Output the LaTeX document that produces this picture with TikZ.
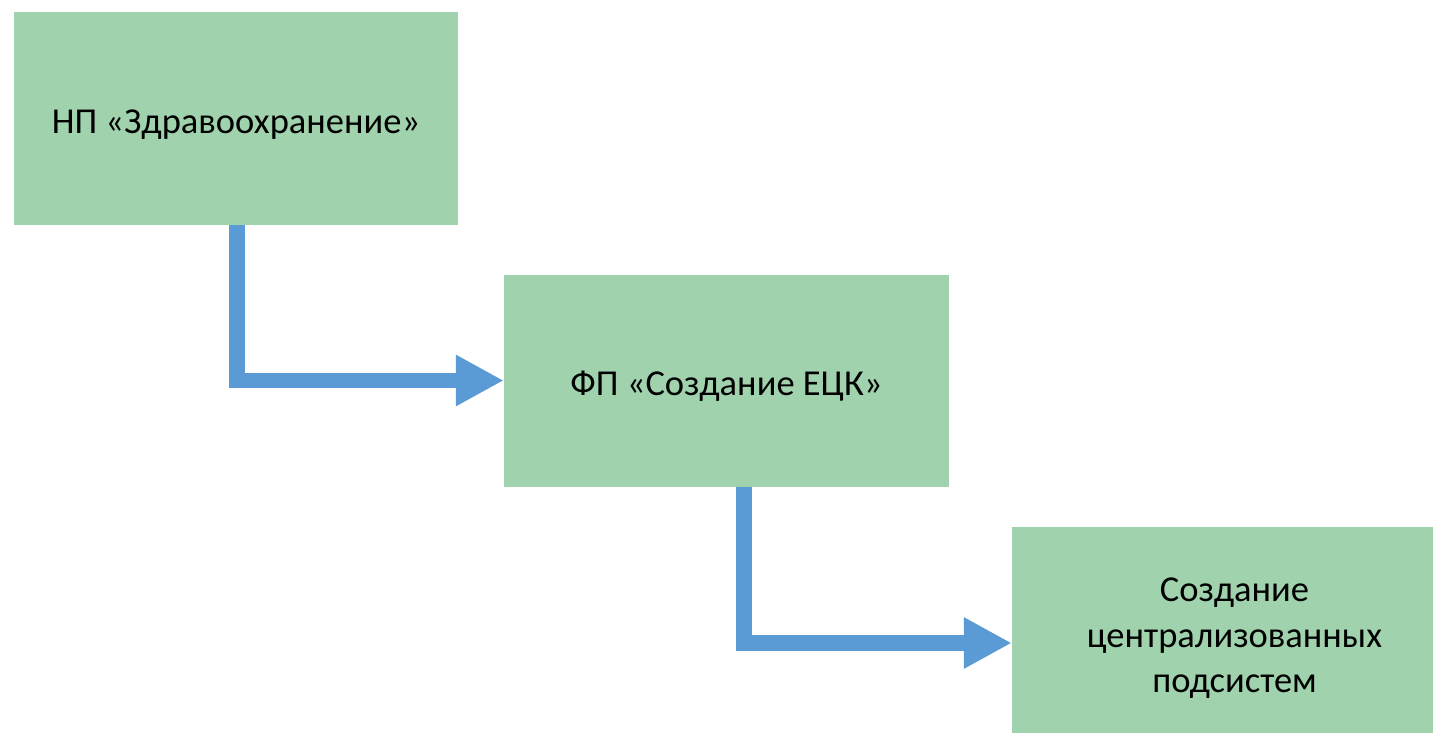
\documentclass[tikz,border=0pt]{standalone}
\usepackage{fontspec}
\setmainfont{Carlito}
\usetikzlibrary{arrows.meta}
\definecolor{boxgreen}{HTML}{A0D3AD}
\definecolor{arrowblue}{HTML}{5B9BD5}
\begin{document}
\begin{tikzpicture}[x=1pt,y=-1pt,
  box/.style={fill=boxgreen, draw=none, minimum width=445pt, minimum height=212pt,
    inner sep=0pt, align=center, font=\fontsize{36.5}{45.5}\selectfont},
  oneline/.style={text height=29.6pt, text depth=0pt},
  conn/.style={draw=arrowblue, line width=15.7pt, line join=miter,
    -{Triangle[length=48pt,width=48pt]}}]
\useasboundingbox (0,0) rectangle (1433,733);
\clip (0,0) rectangle (1433,733);
\fill[white] (0,0) rectangle (1433,733);
\node[box, oneline, minimum width=444pt, minimum height=213pt] (box1) at (236,118.5) {НП «Здравоохранение»};
\node[box, oneline] (box2) at (726.5,380.5) {ФП «Создание ЕЦК»};
\node[box] (box3) at (1234.5,633) {\rule{0pt}{40pt}Создание\\централизованных\\\rule[-12pt]{0pt}{12pt}подсистем};
\draw[conn] ([xshift=1pt]box1.south) |- (box2.west);
\draw[conn] ([xshift=17.5pt]box2.south) |- ([yshift=-10pt]box3.west);
\end{tikzpicture}
\end{document}
